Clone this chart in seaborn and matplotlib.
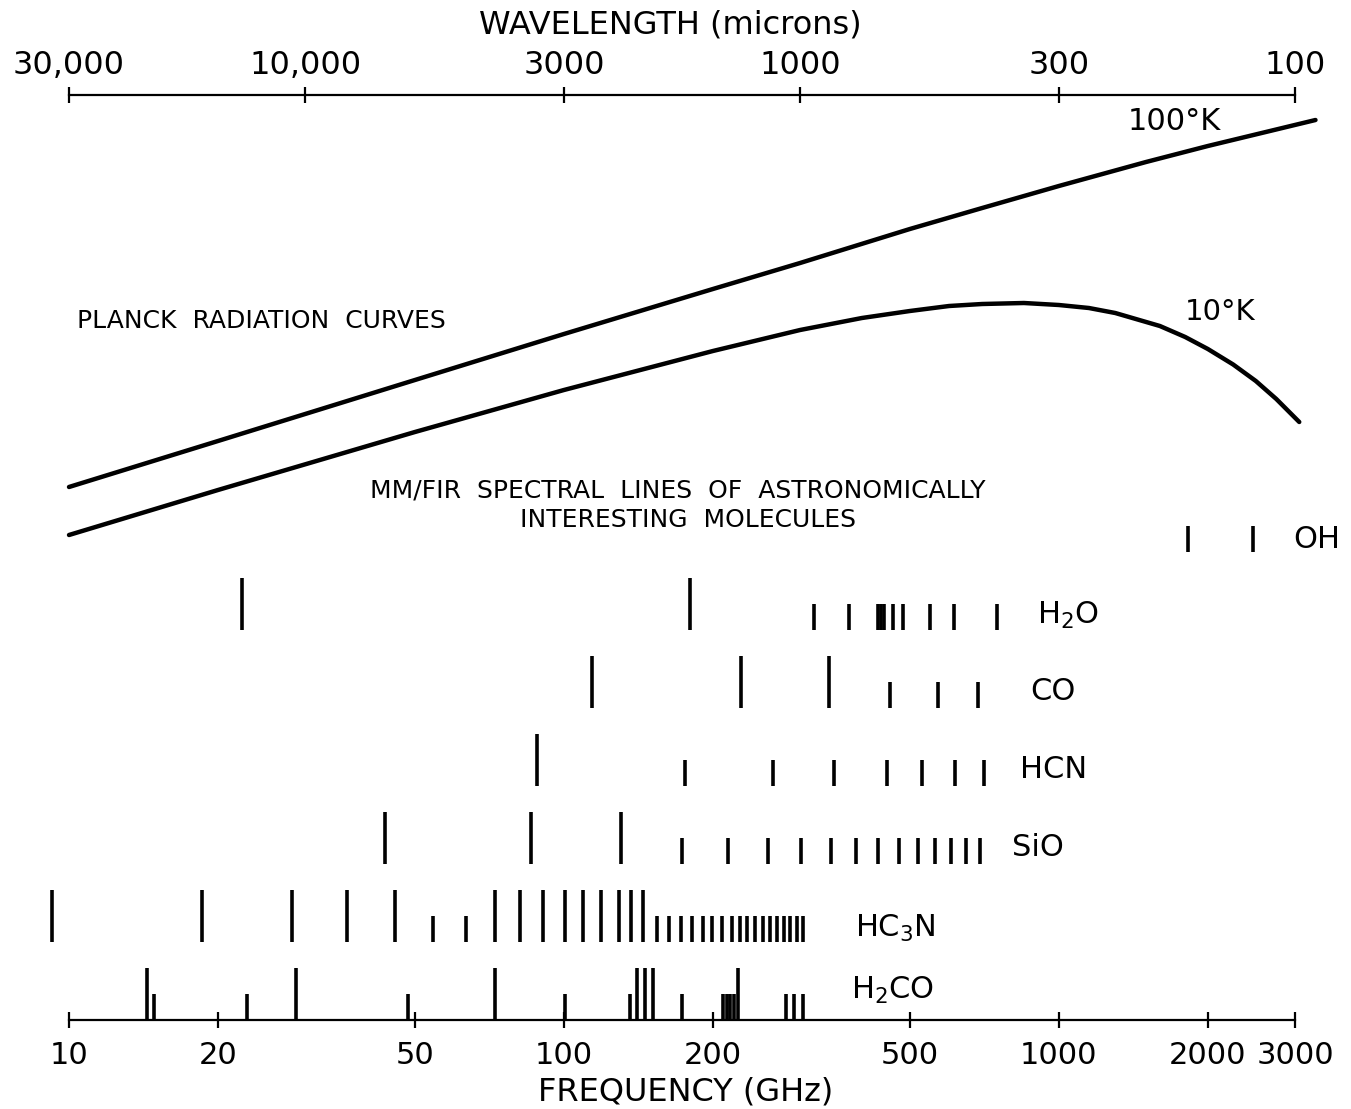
import numpy as np
import pandas as pd
import matplotlib
matplotlib.use("Agg")
import matplotlib.pyplot as plt
import seaborn as sns
from matplotlib.ticker import NullLocator

# === Planck curves (log10 intensity, arbitrary zero) ===
curve_100k_freq = [10, 20, 50, 100, 200, 300, 500, 700, 1000, 1500, 2000, 3300]
curve_100k_logI = [0.96, 1.88, 3.10, 4.02, 4.92, 5.44, 6.12, 6.54, 6.98, 7.46, 7.78, 8.30]
curve_10k_freq = [10, 20, 50, 100, 200, 300, 400, 500, 600, 700, 850, 1000, 1150,
                  1300, 1600, 1800, 2000, 2250, 2500, 2750, 3060]
curve_10k_logI = [0.0, 0.9, 2.06, 2.9, 3.68, 4.1, 4.34, 4.48, 4.58, 4.62, 4.64, 4.6,
                  4.54, 4.44, 4.18, 3.96, 3.72, 3.41, 3.08, 2.72, 2.26]

# === spectral lines (GHz), strength 1 = strong, 0.5 = weak ===
molecules = ["OH", "H2O", "CO", "HCN", "SiO", "HC3N", "H2CO"]
mol_labels = ["OH", r"H$_2$O", "CO", "HCN", "SiO", r"HC$_3$N", r"H$_2$CO"]

oh_freq = [1823, 2466]
oh_strength = [0.5, 0.5]
h2o_freq = [22.4, 180, 320, 377, 432, 437, 443, 462, 484, 549, 614, 750]
h2o_strength = [1, 1, 0.5, 0.5, 0.5, 0.5, 0.5, 0.5, 0.5, 0.5, 0.5, 0.5]
co_freq = [113.9, 228, 343, 456, 569, 686]
co_strength = [1, 1, 1, 0.5, 0.5, 0.5]
hcn_freq = [88.2, 176, 264, 351, 449, 529, 617, 705]
hcn_strength = [1, 0.5, 0.5, 0.5, 0.5, 0.5, 0.5, 0.5]
sio_freq = [43.5, 85.8, 130.4, 173, 215, 259, 301, 346, 389, 431, 475, 519,
            563, 605, 649, 692]
sio_strength = [1, 1, 1] + [0.5] * 13
hc3n_freq = [9.24, 18.6, 28.2, 36.4, 45.6, 54.3, 63.4, 72.5, 81.5, 90.7, 100.5,
             109.2, 118.8, 129, 136.5, 144.4, 154.1, 163, 172.3, 181.4, 190.9,
             199.1, 208.5, 218.4, 226.8, 234.3, 243.8, 252.5, 260.7, 269.3,
             278.2, 286.2, 295.6, 304.0]
hc3n_strength = [1, 1, 1, 1, 1, 0.5, 0.5, 1, 1, 1, 1, 1, 1, 1, 1, 1] + [0.5] * 18
h2co_freq = [14.4, 14.85, 22.9, 28.7, 48.3, 72.7, 100.5, 136, 140.4, 145.8, 151.3,
             173, 210, 213.4, 216.7, 220.7, 225, 280.4, 291.2, 304]
h2co_strength = [1, 0.5, 0.5, 1, 0.5, 1, 0.5, 0.5, 1, 1, 1, 0.5, 0.5, 0.5, 0.5,
                 0.5, 1, 0.5, 0.5, 0.5]

freq_ticks = [10, 20, 50, 100, 200, 500, 1000, 2000, 3000]
wave_ticks = [30000, 10000, 3000, 1000, 300, 100]
wave_labels = ["30,000", "10,000", "3000", "1000", "300", "100"]

curves = pd.concat([
    pd.DataFrame({"freq": curve_100k_freq, "logI": curve_100k_logI, "T": "100K"}),
    pd.DataFrame({"freq": curve_10k_freq, "logI": curve_10k_logI, "T": "10K"}),
])

all_freq = [oh_freq, h2o_freq, co_freq, hcn_freq, sio_freq, hc3n_freq, h2co_freq]
all_str = [oh_strength, h2o_strength, co_strength, hcn_strength, sio_strength,
           hc3n_strength, h2co_strength]
lines = pd.concat([pd.DataFrame({"molecule": m, "freq": f, "strength": s})
                   for m, f, s in zip(molecules, all_freq, all_str)])

# === figure ===
sns.set_style("white")
plt.rcParams["font.family"] = ["DejaVu Sans"]
plt.rcParams["mathtext.default"] = "regular"
plt.rcParams["text.color"] = "black"
plt.rcParams["xtick.color"] = "black"
plt.rcParams["xtick.labelcolor"] = "black"

W, H = 1351, 1109
fig = plt.figure(figsize=(W / 100, H / 100), dpi=100)

def px(x, y):
    return x / W, 1 - y / H

left, right = 69 / W, 1295 / W
ax_top = fig.add_axes([left, 1 - 560 / H, right - left, 465 / H])
ax_lines = fig.add_axes([left, 1 - 1020 / H, right - left, 500 / H])
for ax in (ax_top, ax_lines):
    ax.set_facecolor("none")
    ax.set_xscale("log")
    ax.set_xlim(10, 3000)
    for s in ax.spines.values():
        s.set_visible(False)

# planck curves
sns.lineplot(data=curves, x="freq", y="logI", hue="T", palette=["black", "black"],
             estimator=None, sort=False, legend=False, linewidth=3.2, ax=ax_top)
for l in ax_top.lines:
    l.set_clip_on(False)
    l.set_solid_capstyle("round")
ax_top.set_ylim(-0.5, 8.8)
ax_top.set_xlabel("")
ax_top.set_ylabel("")
ax_top.set_yticks([])
ax_top.set_xticks([])
ax_top.xaxis.set_minor_locator(NullLocator())

# wavelength axis on top
sec = ax_top.secondary_xaxis("top", functions=(lambda f: 3e5 / f, lambda l: 3e5 / l))
sec.set_xticks(wave_ticks, wave_labels)
sec.xaxis.set_minor_locator(NullLocator())
sec.spines["top"].set_linewidth(1.6)
sec.spines["top"].set_color("black")
sec.tick_params(direction="inout", length=12, width=1.6, labelsize=23, pad=4,
                colors="black")

# spectral lines
n_rows = len(molecules)
for i, m in enumerate(molecules):
    base = n_rows - 1 - i
    sub = lines[lines["molecule"] == m]
    ax_lines.vlines(sub["freq"], base, base + 0.67 * sub["strength"],
                    color="black", linewidth=2.6, clip_on=False)
ax_lines.set_ylim(0, 500 / 78)
ax_lines.set_yticks([])
ax_lines.spines["bottom"].set_visible(True)
ax_lines.spines["bottom"].set_linewidth(1.6)
ax_lines.spines["bottom"].set_color("black")
ax_lines.set_xticks(freq_ticks, [str(t) for t in freq_ticks])
ax_lines.xaxis.set_minor_locator(NullLocator())
ax_lines.tick_params(axis="x", direction="inout", length=12, width=1.6,
                     labelsize=22, pad=9, bottom=True, colors="black")

# === text ===
fig.text(*px(670, 25), "WAVELENGTH (microns)", fontsize=23, ha="center", va="center")
fig.text(*px(686, 1092), "FREQUENCY (GHz)", fontsize=23, ha="center", va="center")
fig.text(*px(1128, 122), "100°K", fontsize=22, ha="left", va="center")
fig.text(*px(1185, 312), "10°K", fontsize=21, ha="left", va="center")
fig.text(*px(77, 321), "PLANCK  RADIATION  CURVES", fontsize=18, ha="left", va="center")
fig.text(*px(678, 490), "MM/FIR  SPECTRAL  LINES  OF  ASTRONOMICALLY", fontsize=18,
         ha="center", va="center")
fig.text(*px(688, 520), "INTERESTING  MOLECULES", fontsize=18, ha="center", va="center")

label_pos = [(1293, 540), (1037, 615), (1030, 692), (1020, 770), (1012, 848),
             (855, 928), (851, 990)]
for lab, (x, y) in zip(mol_labels, label_pos):
    fig.text(*px(x, y), lab, fontsize=22, ha="left", va="center")

fig.savefig("out.png", dpi=100)
